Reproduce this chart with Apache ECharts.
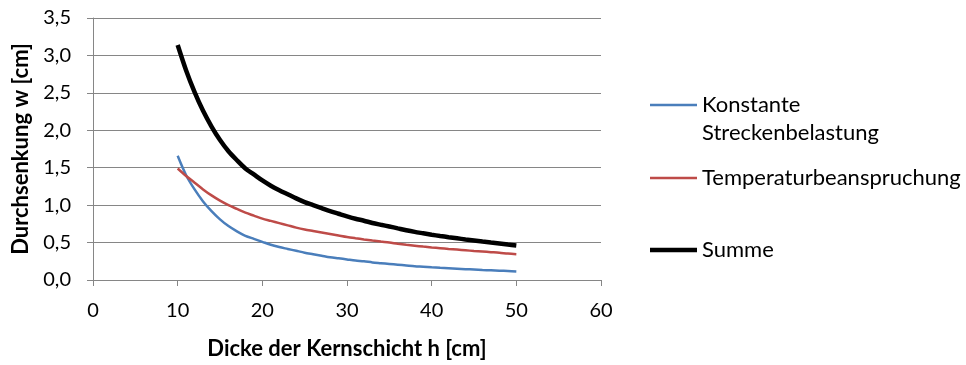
<!DOCTYPE html>
<html>
<head>
<meta charset="utf-8">
<script src="https://cdn.jsdelivr.net/npm/echarts@6/dist/echarts.min.js"></script>
<style>
  html, body { margin: 0; padding: 0; background: #fff; }
  #chart { width: 966px; height: 365px; }
</style>
</head>
<body>
<div id="chart"></div>
<script>
// Dicke der Kernschicht h [cm]
const thickness = [10, 11, 12, 13, 14, 15, 16, 17, 18, 19, 20, 21, 22, 23, 24, 25, 26, 27, 28, 29,
  30, 31, 32, 33, 34, 35, 36, 37, 38, 39, 40, 41, 42, 43, 44, 45, 46, 47, 48, 49, 50];

// Durchsenkung infolge konstanter Streckenbelastung [cm]
const streckenlast = [1.66, 1.40, 1.21, 1.05, 0.92, 0.81, 0.72, 0.65, 0.59, 0.55, 0.51, 0.47, 0.44, 0.415, 0.39,
  0.365, 0.345, 0.325, 0.305, 0.29, 0.275, 0.26, 0.25, 0.235, 0.225, 0.215, 0.205, 0.195, 0.185, 0.178,
  0.17, 0.163, 0.157, 0.151, 0.145, 0.14, 0.134, 0.129, 0.124, 0.12, 0.115];

// Durchsenkung infolge Temperaturbeanspruchung [cm]
const temperatur = [1.49, 1.39, 1.30, 1.21, 1.13, 1.06, 1.00, 0.95, 0.90, 0.86, 0.82, 0.79, 0.76, 0.73, 0.70,
  0.675, 0.655, 0.635, 0.615, 0.595, 0.575, 0.558, 0.542, 0.527, 0.513, 0.50, 0.484, 0.47, 0.458, 0.446,
  0.435, 0.425, 0.415, 0.406, 0.397, 0.388, 0.38, 0.372, 0.364, 0.353, 0.345];

// Gesamtdurchsenkung [cm]
const summe = [3.14, 2.80, 2.51, 2.26, 2.05, 1.87, 1.72, 1.60, 1.49, 1.41, 1.33, 1.26, 1.20, 1.145, 1.09,
  1.04, 1.00, 0.96, 0.92, 0.885, 0.85, 0.818, 0.792, 0.762, 0.738, 0.715, 0.69, 0.665, 0.643, 0.624,
  0.605, 0.588, 0.572, 0.557, 0.542, 0.528, 0.514, 0.501, 0.488, 0.473, 0.46];

const seriesNames = ['Konstante Streckenbelastung', 'Temperaturbeanspruchung', 'Summe'];
const xTicks = { min: 0, max: 60, step: 10 };
const yTicks = { min: 0, max: 3.5, step: 0.5 };

const pairs = (ys) => thickness.map((h, i) => [h, ys[i]]);
const FONT = 'Lato';
const GRID = '#868686';
const COLORS = ['#4a7ebb', '#be4b48', '#000000'];
const WIDTHS = [2.5, 2.5, 4.5];

const chart = echarts.init(document.getElementById('chart'), null, { renderer: 'canvas' });

// one legend block per series so each entry sits at its own height
const legendAt = (i, top, formatter) => ({
  orient: 'vertical',
  left: 650,
  top: top,
  padding: 0,
  icon: 'rect',
  itemWidth: 47,
  itemHeight: WIDTHS[i],
  itemGap: 0,
  data: [seriesNames[i]],
  formatter: formatter,
  textStyle: { fontFamily: FONT, fontSize: 22, color: '#000', lineHeight: 28 }
});

chart.setOption({
  animation: false,
  backgroundColor: '#fff',
  grid: { left: 93, right: 365, top: 18, bottom: 82, containLabel: false },
  legend: [
    // blank first line keeps "Konstante" level with the legend line
    legendAt(0, 63, () => ' \nKonstante\nStreckenbelastung'),
    legendAt(1, 164),
    legendAt(2, 236)
  ],
  xAxis: {
    type: 'value',
    min: xTicks.min, max: xTicks.max, interval: xTicks.step,
    name: 'Dicke der Kernschicht h [cm]',
    nameLocation: 'middle',
    nameGap: 58,
    nameTextStyle: { fontFamily: FONT, fontSize: 22, fontWeight: 'bold', color: '#000' },
    axisLine: { show: true, lineStyle: { color: GRID, width: 1 } },
    axisTick: { show: true, length: 6, lineStyle: { color: GRID } },
    axisLabel: { fontFamily: FONT, fontSize: 20, color: '#000', margin: 21 },
    splitLine: { show: false }
  },
  yAxis: {
    type: 'value',
    min: yTicks.min, max: yTicks.max, interval: yTicks.step,
    name: 'Durchsenkung w [cm]',
    nameLocation: 'middle',
    nameGap: 59,
    nameTextStyle: { fontFamily: FONT, fontSize: 22, fontWeight: 'bold', color: '#000' },
    axisLine: { show: true, lineStyle: { color: GRID, width: 1 } },
    axisTick: { show: true, length: 6, lineStyle: { color: GRID } },
    axisLabel: {
      fontFamily: FONT, fontSize: 20, color: '#000', margin: 22,
      formatter: (v) => v.toFixed(1).replace('.', ',')
    },
    splitLine: { show: true, lineStyle: { color: GRID, width: 1 } }
  },
  series: seriesNames.map((name, i) => ({
    name: name,
    type: 'line',
    data: pairs([streckenlast, temperatur, summe][i]),
    symbol: 'none',
    smooth: 0.3,
    lineStyle: { color: COLORS[i], width: WIDTHS[i] },
    itemStyle: { color: COLORS[i] },
    z: 2 + i
  }))
});
</script>
</body>
</html>
